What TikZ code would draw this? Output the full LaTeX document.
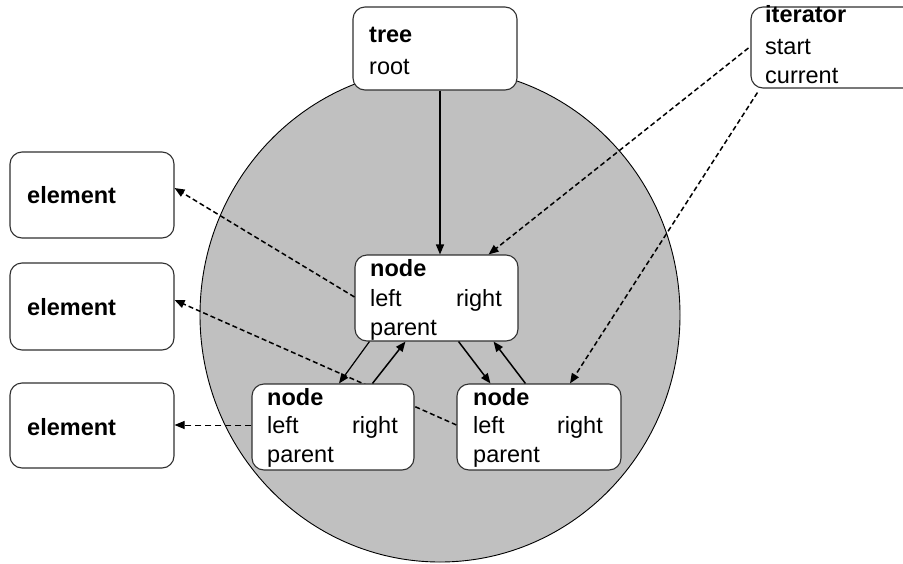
\documentclass[tikz,border=0pt]{standalone}
\usepackage{fontspec}
\setmainfont{Liberation Sans}
\usetikzlibrary{arrows.meta,calc}
\pgfdeclarelayer{bg}
\pgfdeclarelayer{mid}
\pgfsetlayers{bg,mid,main}
\definecolor{disk}{HTML}{C0C0C0}
\definecolor{edge}{HTML}{303030}
\tikzset{
  box/.style={draw=edge, line width=1.1pt, fill=white, rounded corners=12pt, inner sep=0pt},
  txt/.style={anchor=base west, inner sep=0pt, font=\fontsize{23.5}{28}\selectfont},
  txtr/.style={anchor=base east, inner sep=0pt, font=\fontsize{23.5}{28}\selectfont},
  btxt/.style={txt, font=\fontsize{23.5}{28}\selectfont\bfseries},
  tip/.style={-{Triangle[length=10pt,width=8pt]}},
  solidarrow/.style={tip, line width=1.5pt},
  dasharrow/.style={tip, line width=1.5pt, dash pattern=on 5pt off 3pt},
  thindash/.style={tip, line width=1pt, dash pattern=on 6pt off 4pt},
}
\begin{document}
\begin{tikzpicture}[x=1pt,y=-1pt]
\useasboundingbox (0,0) rectangle (903,563);
\begin{pgfonlayer}{bg}
\fill[white] (0,0) rectangle (903,563);
\filldraw[fill=disk, draw=black, line width=0.9pt] (440,315) ellipse [x radius=240, y radius=247];
\end{pgfonlayer}
\clip (0,0) rectangle (903,563);

% boxes
\node[box, minimum width=164pt, minimum height=83pt] (tree) at (435,48.5) {};
\node[box, minimum width=164pt, minimum height=81pt] (it) at (833,47.5) {};
\node[box, minimum width=164pt, minimum height=86pt] (el1) at (92,195) {};
\node[box, minimum width=164pt, minimum height=87pt] (el2) at (92,306.5) {};
\node[box, minimum width=164pt, minimum height=85pt] (el3) at (92,425.5) {};
\node[box, minimum width=163pt, minimum height=86pt] (nt) at (436.5,298) {};
\node[box, minimum width=162pt, minimum height=86pt] (nl) at (333,427) {};
\node[box, minimum width=164pt, minimum height=86pt] (nr) at (539,427) {};

% texts
\node[btxt] (t1) at (369,42) {tree};
\node[txt] (t2) at (369,74) {root};
\node[btxt] (i1) at (765,22) {iterator};
\node[txt] (i2) at (765,54) {start};
\node[txt] (i3) at (765,83) {current};
\node[btxt] (e1) at (27,203) {element};
\node[btxt] (e2) at (27,315) {element};
\node[btxt] (e3) at (27,435) {element};
\node[btxt] (nt1) at (370,276) {node};
\node[txt] (nt2) at (370,306) {left};
\node[txtr] (nt3) at (502,306) {right};
\node[txt] (nt4) at (370,335) {parent};
\node[btxt] (nl1) at (267,405) {node};
\node[txt] (nl2) at (267,433) {left};
\node[txtr] (nl3) at (398,433) {right};
\node[txt] (nl4) at (267,462) {parent};
\node[btxt] (nr1) at (473,405) {node};
\node[txt] (nr2) at (473,433) {left};
\node[txtr] (nr3) at (603,433) {right};
\node[txt] (nr4) at (473,462) {parent};

% connectors
\draw[solidarrow] ([xshift=5pt]tree.south) -- ([xshift=3.5pt]nt.north);
\draw[dasharrow] ([yshift=-0.5pt,xshift=-2pt]it.west) -- ([xshift=-30pt]nt.north east);
\draw[dasharrow] ([xshift=7pt,yshift=-4pt]it.south west) -- ([xshift=31pt]nr.north);
\draw[dasharrow] ([yshift=1pt]nt.west) -- ([yshift=7pt]el1.east);
\begin{pgfonlayer}{mid}
\draw[dasharrow] ([yshift=2pt]nr.west) -- ([yshift=6.5pt]el2.east);
\end{pgfonlayer}
\draw[thindash] ([yshift=2pt]nl.west) -- ([yshift=0.5pt]el3.east);
\draw[solidarrow, line width=1.2pt] ([xshift=15pt]nt.south west) -- ([xshift=6pt]nl.north);
\draw[solidarrow] ([xshift=121pt]nl.north west) -- ([xshift=51pt]nt.south west);
\draw[solidarrow] ([xshift=-60pt]nt.south east) -- ([xshift=34pt]nr.north west);
\draw[solidarrow] ([xshift=69pt]nr.north west) -- ([xshift=-25pt]nt.south east);
\end{tikzpicture}
\end{document}
